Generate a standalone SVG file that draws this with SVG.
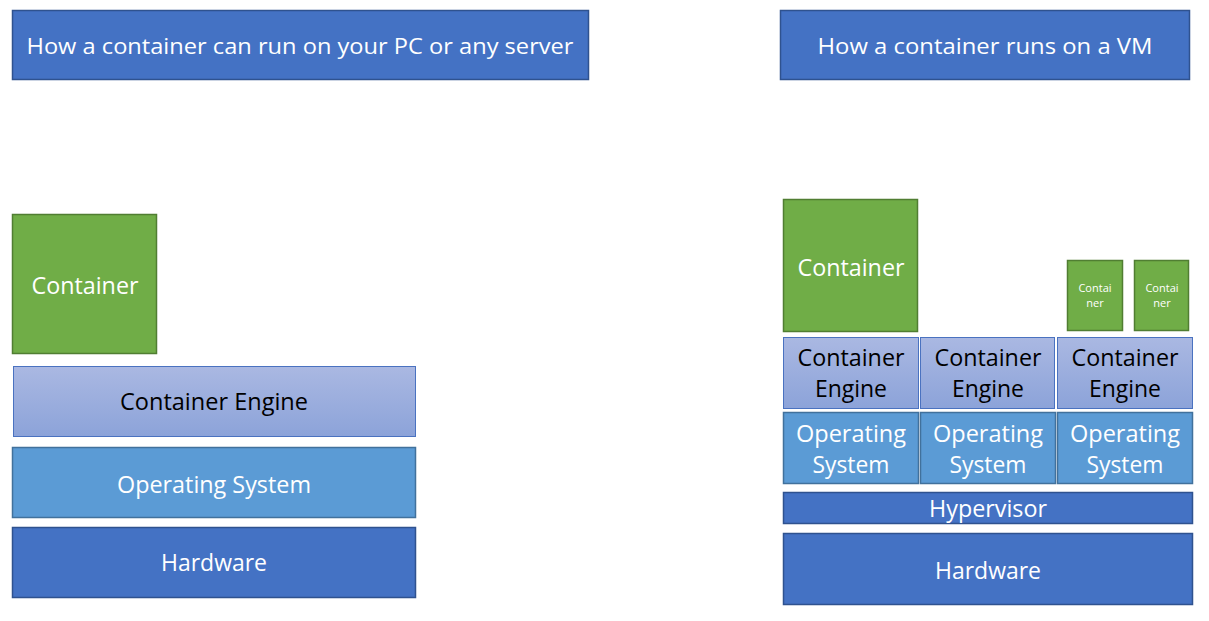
<svg xmlns="http://www.w3.org/2000/svg" width="1209" height="621" viewBox="0 0 1209 621">
<style>
text{font-family:"Open Sans","Noto Sans","DejaVu Sans",sans-serif;text-anchor:middle}
.t{fill:#fff}
.d{fill:#000}
.blue{fill:#4472C4;stroke:#2F528F;stroke-width:1.5}
.os{fill:#5B9BD5;stroke:#41719C;stroke-width:1.5}
.green{fill:#70AD47;stroke:#507E32;stroke-width:1.5}
.eng{fill:url(#eg);stroke:#4A72C0;stroke-width:1}
</style>
<defs>
<linearGradient id="eg" x1="0" y1="0" x2="0" y2="1">
<stop offset="0" stop-color="#AAB8E2"/>
<stop offset="1" stop-color="#8CA3D9"/>
</linearGradient>
</defs>
<g id="title-left"><rect class="blue" x="12.5" y="10.5" width="576" height="69"/><text class="t" x="300" y="54" font-size="22" textLength="547" lengthAdjust="spacingAndGlyphs">How a container can run on your PC or any server</text></g>
<g id="title-right"><rect class="blue" x="780.5" y="10.5" width="409" height="69"/><text class="t" x="985" y="54" font-size="22" textLength="335" lengthAdjust="spacingAndGlyphs">How a container runs on a VM</text></g>

<g id="l-container"><rect class="green" x="12.5" y="214.5" width="144" height="139"/><text class="t" x="85" y="294" font-size="23" textLength="107" lengthAdjust="spacingAndGlyphs">Container</text></g>
<g id="l-engine"><rect class="eng" x="13.5" y="366.5" width="402" height="70"/><text class="d" x="214" y="410" font-size="23" textLength="188" lengthAdjust="spacingAndGlyphs">Container Engine</text></g>
<g id="l-os"><rect class="os" x="12.5" y="447.5" width="403" height="70"/><text class="t" x="214" y="493" font-size="23" textLength="194" lengthAdjust="spacingAndGlyphs">Operating System</text></g>
<g id="l-hw"><rect class="blue" x="12.5" y="527.5" width="403" height="70"/><text class="t" x="214" y="571" font-size="23" textLength="106" lengthAdjust="spacingAndGlyphs">Hardware</text></g>

<g id="r-container"><rect class="green" x="783.5" y="199.5" width="134" height="132"/><text class="t" x="851" y="276" font-size="23" textLength="107" lengthAdjust="spacingAndGlyphs">Container</text></g>
<g id="r-container-s1"><rect class="green" x="1067.5" y="260.5" width="55" height="70"/><text class="t" x="1095" y="292" font-size="11">Contai</text><text class="t" x="1095" y="307" font-size="11">ner</text></g>
<g id="r-container-s2"><rect class="green" x="1134.5" y="260.5" width="54" height="70"/><text class="t" x="1162" y="292" font-size="11">Contai</text><text class="t" x="1162" y="307" font-size="11">ner</text></g>

<g id="r-engine1"><rect class="eng" x="783.5" y="337.5" width="135" height="71"/><text class="d" x="851" y="366" font-size="23" textLength="107" lengthAdjust="spacingAndGlyphs">Container</text><text class="d" x="851" y="397" font-size="23" textLength="72" lengthAdjust="spacingAndGlyphs">Engine</text></g>
<g id="r-engine2"><rect class="eng" x="920.5" y="337.5" width="134" height="71"/><text class="d" x="988" y="366" font-size="23" textLength="107" lengthAdjust="spacingAndGlyphs">Container</text><text class="d" x="988" y="397" font-size="23" textLength="72" lengthAdjust="spacingAndGlyphs">Engine</text></g>
<g id="r-engine3"><rect class="eng" x="1057.5" y="337.5" width="135" height="71"/><text class="d" x="1125" y="366" font-size="23" textLength="107" lengthAdjust="spacingAndGlyphs">Container</text><text class="d" x="1125" y="397" font-size="23" textLength="72" lengthAdjust="spacingAndGlyphs">Engine</text></g>

<g id="r-os1"><rect class="os" x="783.5" y="412.5" width="135" height="71"/><text class="t" x="851" y="442" font-size="23" textLength="110" lengthAdjust="spacingAndGlyphs">Operating</text><text class="t" x="851" y="473" font-size="23" textLength="77" lengthAdjust="spacingAndGlyphs">System</text></g>
<g id="r-os2"><rect class="os" x="920.5" y="412.5" width="135" height="71"/><text class="t" x="988" y="442" font-size="23" textLength="110" lengthAdjust="spacingAndGlyphs">Operating</text><text class="t" x="988" y="473" font-size="23" textLength="77" lengthAdjust="spacingAndGlyphs">System</text></g>
<g id="r-os3"><rect class="os" x="1057.5" y="412.5" width="135" height="71"/><text class="t" x="1125" y="442" font-size="23" textLength="110" lengthAdjust="spacingAndGlyphs">Operating</text><text class="t" x="1125" y="473" font-size="23" textLength="77" lengthAdjust="spacingAndGlyphs">System</text></g>

<g id="r-hyper"><rect class="blue" x="783.5" y="492.5" width="409" height="31"/><text class="t" x="988" y="517" font-size="23" textLength="118" lengthAdjust="spacingAndGlyphs">Hypervisor</text></g>
<g id="r-hw"><rect class="blue" x="783.5" y="533.5" width="409" height="71"/><text class="t" x="988" y="579" font-size="23" textLength="106" lengthAdjust="spacingAndGlyphs">Hardware</text></g>
<g id="connectors"></g>
</svg>
